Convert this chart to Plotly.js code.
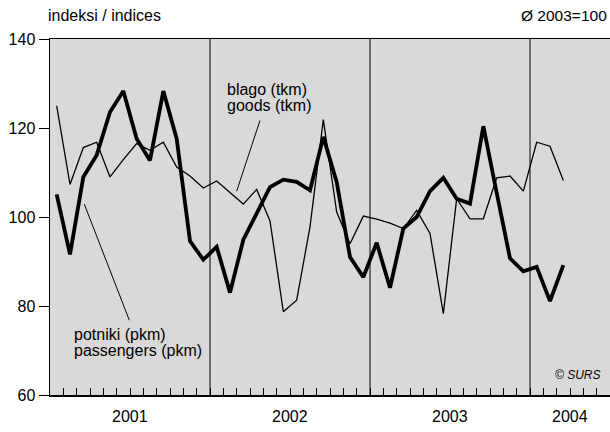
<!DOCTYPE html>
<html>
<head>
<meta charset="utf-8">
<script src="https://cdn.plot.ly/plotly-3.0.1.min.js"></script>
<style>html,body{margin:0;padding:0;background:#fff;}#chart{width:610px;height:432px;}</style>
</head>
<body>
<div id="chart"></div>
<script>
// Month labels (Jan 2001 – Mar 2004)
const years = ["2001", "2002", "2003", "2004"];
const monthsPerYear = [12, 12, 12, 3];
const months = [];
years.forEach((y, k) => { for (let m = 1; m <= monthsPerYear[k]; m++) months.push(y + "-" + String(m).padStart(2, "0")); });

// Index values, Ø 2003 = 100
const passengers = [105.1, 91.6, 109.0, 113.9, 123.6, 128.3, 117.6, 112.7, 128.3, 117.6, 94.6, 90.4,
                    93.3, 83.0, 94.9, 100.8, 106.7, 108.4, 107.9, 106.0, 118.0, 107.9, 91.0, 86.5,
                    94.2, 84.1, 97.4, 100.0, 105.8, 108.8, 104.1, 103.0, 120.4, 105.5, 90.7, 87.8,
                    88.8, 81.1, 89.2];
const goods = [125.0, 107.3, 115.6, 116.8, 109.0, 112.9, 116.5, 115.0, 116.8, 111.2, 109.2, 106.5,
               108.1, 105.6, 102.9, 106.2, 99.1, 78.7, 81.3, 97.8, 121.9, 101.1, 94.0, 100.2,
               99.5, 98.6, 97.4, 101.5, 96.3, 78.3, 104.1, 99.6, 99.6, 108.8, 109.2, 105.8,
               116.8, 115.9, 108.2];
const yTicks = [60, 80, 100, 120, 140];

// month slot positions on a linear axis (each month one unit, point in the middle)
const xPos = months.map((_, i) => i + 0.5);
const FONT = "Liberation Sans, Arial, Helvetica, sans-serif";
const TXT = "#000";

const traces = [
  { x: xPos, y: goods, type: "scatter", mode: "lines", name: "goods (tkm)",
    line: { color: "#000", width: 1.3 }, hoverinfo: "skip" },
  { x: xPos, y: passengers, type: "scatter", mode: "lines", name: "passengers (pkm)",
    line: { color: "#000", width: 3.8 }, hoverinfo: "skip" }
];

// year boundaries & label centres
const yearStart = [];
let acc = 0;
years.forEach((y, k) => { yearStart.push(acc); acc += (k < 3 ? 12 : 6); });

const shapes = [];
yearStart.slice(1).forEach((s, k) => {
  shapes.push({ type: "line", xref: "x", yref: "y", x0: s, x1: s, y0: 60, y1: 140, layer: "below",
    line: { color: k === 2 ? "#555" : "#000", width: k === 2 ? 1.6 : 1 } });
});
// leader lines
shapes.push({ type: "line", xref: "x", yref: "y", x0: 15.75, y0: 121.7, x1: 14.0, y1: 105.8, line: { color: "#000", width: 1 } });
shapes.push({ type: "line", xref: "x", yref: "y", x0: 2.57, y0: 102.9, x1: 5.95, y1: 76.8, line: { color: "#000", width: 1 } });

const ann = [];
years.forEach((y, k) => {
  ann.push({ text: y, xref: "x", yref: "paper", x: yearStart[k] + (k < 3 ? 6 : 3), y: -0.0617,
    xanchor: "center", yanchor: "middle", showarrow: false, font: { size: 16, color: TXT, family: FONT } });
});
ann.push({ text: "indeksi / indices", xref: "paper", yref: "paper", x: -0.008, y: 1.066, xanchor: "left", yanchor: "middle",
  showarrow: false, font: { size: 16, color: TXT, family: FONT } });
ann.push({ text: "Ø 2003=100", xref: "paper", yref: "paper", x: 0.998, y: 1.066, xanchor: "right", yanchor: "middle",
  showarrow: false, font: { size: 15.5, color: TXT, family: FONT } });
ann.push({ text: "blago (tkm)", xref: "x", yref: "y", x: 13.1, y: 128.67, xanchor: "left", yanchor: "middle",
  showarrow: false, font: { size: 16, color: TXT, family: FONT } });
ann.push({ text: "goods (tkm)", xref: "x", yref: "y", x: 13.1, y: 125.07, xanchor: "left", yanchor: "middle",
  showarrow: false, font: { size: 16, color: TXT, family: FONT } });
ann.push({ text: "potniki (pkm)", xref: "x", yref: "y", x: 1.67, y: 73.69, xanchor: "left", yanchor: "middle",
  showarrow: false, font: { size: 16, color: TXT, family: FONT } });
ann.push({ text: "passengers (pkm)", xref: "x", yref: "y", x: 1.67, y: 70.09, xanchor: "left", yanchor: "middle",
  showarrow: false, font: { size: 16, color: TXT, family: FONT } });
ann.push({ text: "<i>© SURS</i>", xref: "x", yref: "y", x: 41.5, y: 64.5, xanchor: "right", yanchor: "middle",
  showarrow: false, font: { size: 12, color: TXT, family: FONT } });

const layout = {
  width: 610, height: 432,
  margin: { l: 50, r: 0, t: 38.5, b: 37, pad: 0 },
  paper_bgcolor: "#fff", plot_bgcolor: "#d9d9d9",
  showlegend: false,
  font: { family: FONT, color: TXT, size: 15 },
  xaxis: { range: [0, 42], showgrid: false, zeroline: false, showline: true, linecolor: "#000", linewidth: 1.5,
    mirror: true, ticks: "inside", ticklen: 7, tickwidth: 1, tickcolor: "#000", tick0: 0, dtick: 1,
    showticklabels: false, fixedrange: true },
  yaxis: { range: [60, 140], showgrid: false, zeroline: false, showline: true, linecolor: "#000", linewidth: 1.5,
    ticks: "outside", ticklen: 10, tickwidth: 1, tickcolor: "#000", tickmode: "array", tickvals: yTicks,
    ticktext: yTicks.map(String), tickfont: { size: 16, color: TXT, family: FONT }, fixedrange: true },
  shapes: shapes,
  annotations: ann
};

Plotly.newPlot("chart", traces, layout, { displayModeBar: false, staticPlot: true });
</script>
</body>
</html>
